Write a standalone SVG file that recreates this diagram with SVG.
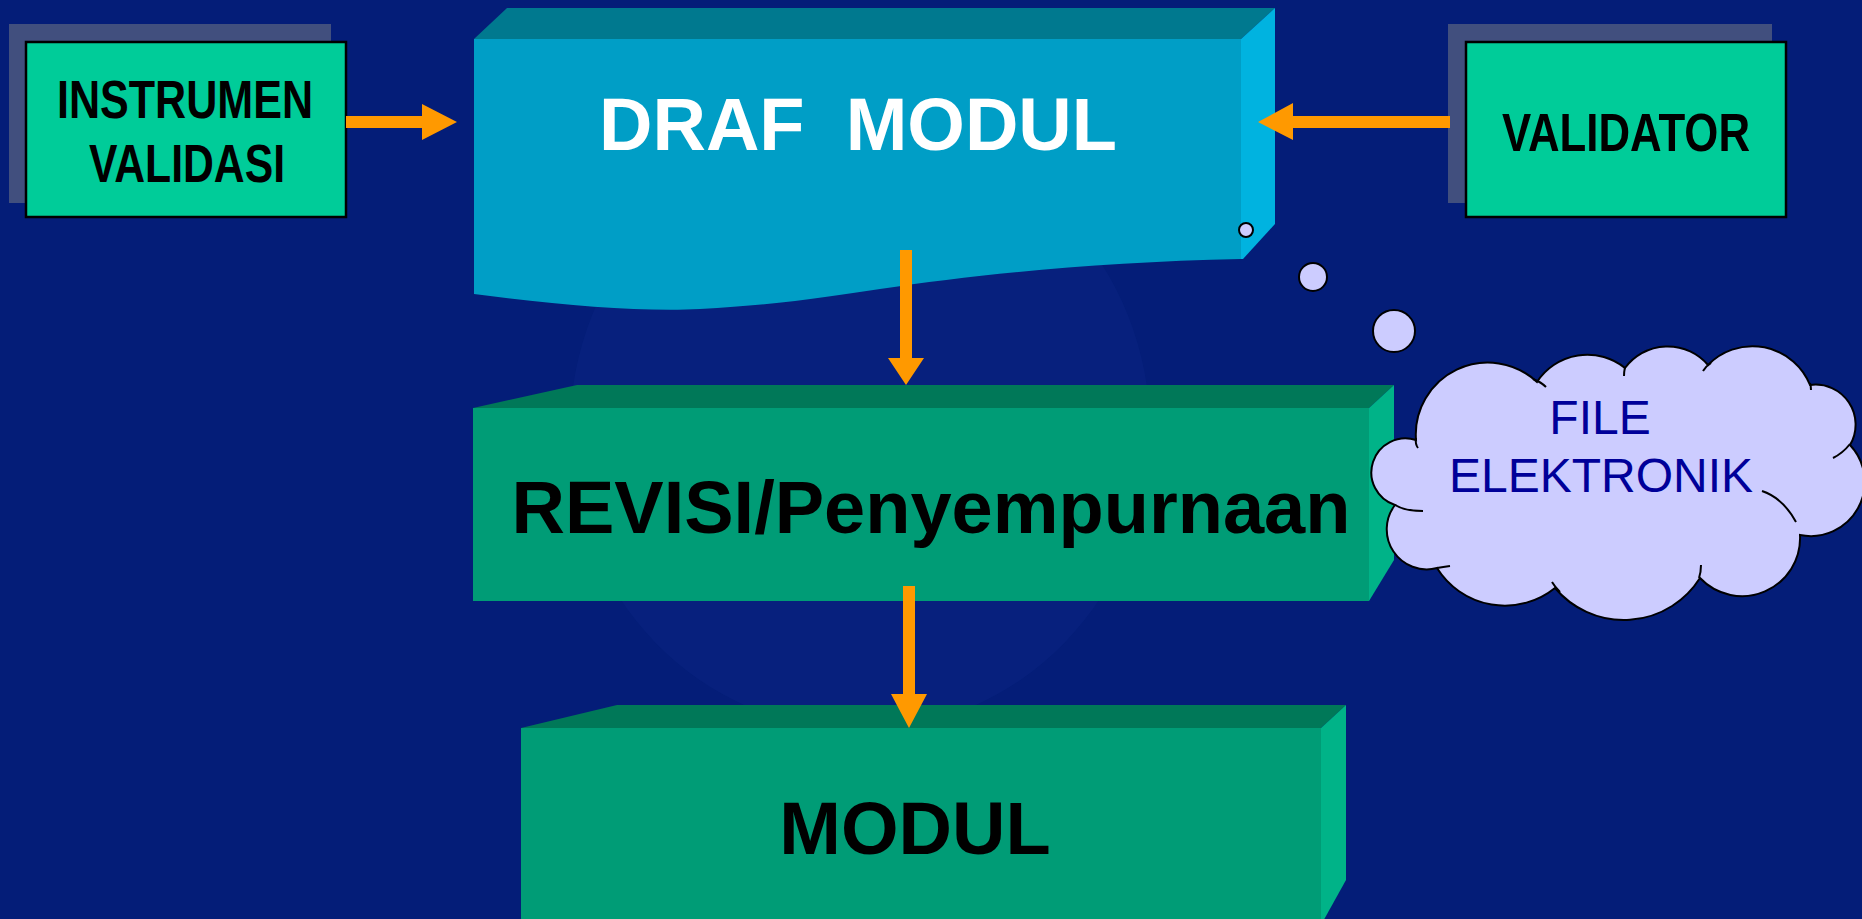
<svg xmlns="http://www.w3.org/2000/svg" width="1862" height="919" viewBox="0 0 1862 919">
  <defs>
    <style>
      .bg { fill: #041D78; }
      .shadow { fill: #414F7E; }
      .gbox { fill: #00CC99; stroke: #000000; stroke-width: 2.5; }
      .lbl { font-family: "Liberation Sans", Arial, sans-serif; font-weight: bold; fill: #000000; text-anchor: middle; }
      .big { font-family: "Liberation Sans", Arial, sans-serif; font-weight: bold; font-size: 74px; text-anchor: middle; }
      .cloudtxt { font-family: "Liberation Sans", Arial, sans-serif; font-size: 48px; fill: #000099; text-anchor: middle; }
      .arrow { fill: #FF9900; }
      .bubble { fill: #CCCCFF; stroke: #000000; stroke-width: 2; }
      .tail { fill: none; stroke: #000000; stroke-width: 2; }
      .gfront { fill: #009C76; }
      .gtop { fill: #007858; }
      .gside { fill: #00B388; }
    </style>
  </defs>

  <rect class="bg" x="0" y="0" width="1862" height="919"/>
  <g id="watermark" opacity="0.14">
    <ellipse cx="860" cy="430" rx="290" ry="300" fill="#1D3A9A"/>
  </g>

  <g id="instrumen-validasi">
    <rect class="shadow" x="9" y="24" width="322" height="179"/>
    <rect class="gbox" x="26" y="42" width="320" height="175"/>
    <text class="lbl" x="185" y="118" font-size="53" textLength="256" lengthAdjust="spacingAndGlyphs">INSTRUMEN</text>
    <text class="lbl" x="187" y="182" font-size="53" textLength="196" lengthAdjust="spacingAndGlyphs">VALIDASI</text>
  </g>

  <g id="validator">
    <rect class="shadow" x="1448" y="24" width="324" height="179"/>
    <rect class="gbox" x="1466" y="42" width="320" height="175"/>
    <text class="lbl" x="1626" y="151" font-size="54" textLength="248" lengthAdjust="spacingAndGlyphs">VALIDATOR</text>
  </g>

  <g id="draf-modul">
    <polygon points="474,39 507,8 1275,8 1241,39" fill="#00798F"/>
    <polygon points="1241,39 1275,8 1275,224 1243,259 1241,259" fill="#00B3E0"/>
    <path d="M474,39 H1241 V259 C1100,262 980,274 880,289 C830,296 780,305 700,309 C640,312 560,305 474,294 Z" fill="#009EC6"/>
    <text class="big" x="858" y="150" fill="#FFFFFF" xml:space="preserve">DRAF  MODUL</text>
  </g>

  <g id="revisi">
    <polygon class="gtop" points="473,408 577,385 1394,385 1369,408"/>
    <polygon class="gside" points="1369,408 1394,385 1394,560 1369,601"/>
    <rect class="gfront" x="473" y="408" width="896" height="193"/>
    <text class="big" x="931" y="533" fill="#000000">REVISI/Penyempurnaan</text>
  </g>

  <g id="modul">
    <polygon class="gtop" points="521,728 617,705 1346,705 1321,728"/>
    <polygon class="gside" points="1321,728 1346,705 1346,880 1321,925"/>
    <rect class="gfront" x="521" y="728" width="800" height="200"/>
    <text class="big" x="915" y="854" fill="#000000">MODUL</text>
  </g>

  <g id="connectors">
    <path class="arrow" d="M346,116 H422 V104 L457,122 L422,140 V128 H346 Z"/>
    <path class="arrow" d="M1450,116 H1293 V103 L1258,122 L1293,140 V128 H1450 Z"/>
    <path class="arrow" d="M900,250 H912 V358 H924 L906,385 L888,358 H900 Z"/>
    <path class="arrow" d="M903,586 H915 V694 H927 L909,728 L891,694 H903 Z"/>
  </g>

  <g id="file-elektronik">
    <circle class="bubble" cx="1246" cy="230" r="7"/>
    <circle class="bubble" cx="1313" cy="277" r="14"/>
    <circle class="bubble" cx="1394" cy="331" r="21"/>
    <path class="bubble" d="M1395,505 A34,34 0 0 1 1416,440 A72,72 0 0 1 1537,382 A60,60 0 0 1 1625,368 A53,53 0 0 1 1708,365 A62,62 0 0 1 1810,385 A40,40 0 0 1 1850,445 A54,54 0 0 1 1800,535 A58,58 0 0 1 1700,578 A90,90 0 0 1 1555,588 A80,80 0 0 1 1437,568 A40,40 0 0 1 1395,505 Z"/>
    <path class="tail" d="M1416,438 Q1415,444 1418,448"/>
    <path class="tail" d="M1533,379 Q1541,382 1546,387"/>
    <path class="tail" d="M1625,367 Q1624,372 1624,376"/>
    <path class="tail" d="M1711,363 Q1706,366 1703,371"/>
    <path class="tail" d="M1810,383 Q1811,386 1811,390"/>
    <path class="tail" d="M1850,444 Q1843,453 1833,458"/>
    <path class="tail" d="M1762,491 Q1783,498 1796,522"/>
    <path class="tail" d="M1701,565 Q1701,572 1699,578"/>
    <path class="tail" d="M1552,582 Q1555,587 1560,592"/>
    <path class="tail" d="M1450,566 Q1443,567 1437,568"/>
    <path class="tail" d="M1423,511 Q1405,511 1395,505"/>
    <text class="cloudtxt" x="1600" y="434">FILE</text>
    <text class="cloudtxt" x="1601" y="492">ELEKTRONIK</text>
  </g>
</svg>
